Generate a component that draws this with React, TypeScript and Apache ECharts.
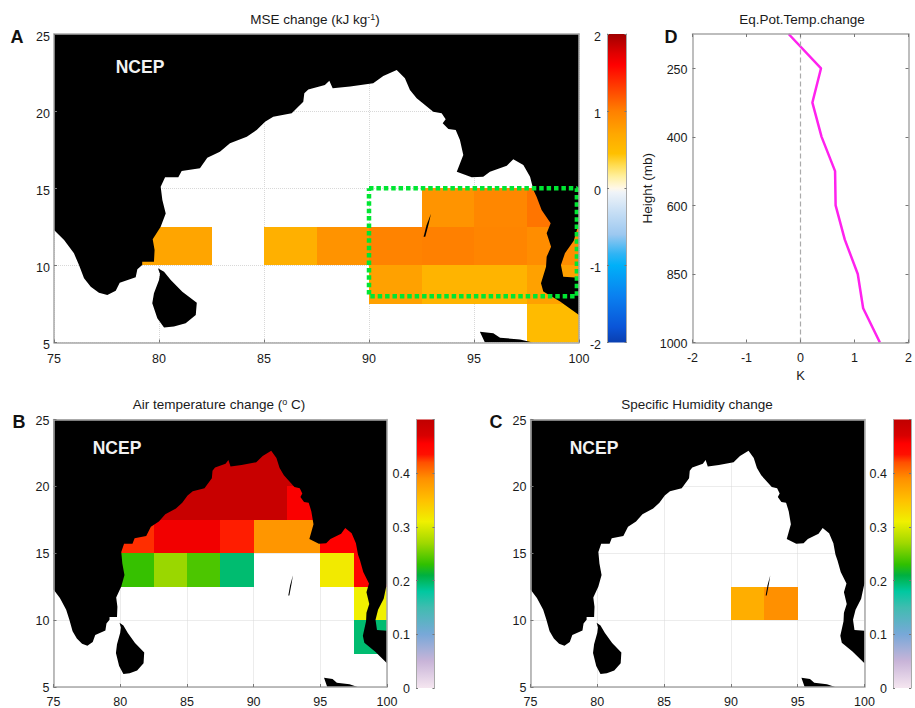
import React, { useEffect, useRef } from "react";
import * as echarts from "echarts";

const FONT = '"Liberation Sans", Arial, sans-serif';
const INK = "#1a1a1a";
const BOX = "#a8a8a8";

// Coastlines, [longitude, latitude]
const mainland: number[][] = [
  [75, 12.29], [75.48, 11.65], [75.95, 10.78], [76.19, 10.02], [76.43, 9.16], [76.75, 8.62], [77.14, 8.23], [77.54, 8.08],
  [77.94, 8.36], [78.13, 8.88], [78.89, 9.23], [78.97, 9.75], [79.2, 10.02], [79.2, 10.24], [79.76, 10.24], [79.79, 11.0], [79.7, 11.69],
  [80.08, 12.51], [80.32, 13.37], [80.16, 14.24], [80.08, 15.1], [80.29, 15.71], [80.92, 15.71], [81.08, 16.12], [81.95, 16.29],
  [82.3, 16.98], [82.9, 17.37], [83.38, 17.91], [84.18, 18.34], [84.65, 18.78], [85.05, 19.31], [85.44, 19.64], [86.32, 19.86],
  [86.87, 20.61], [86.92, 21.16], [87.11, 21.41], [87.9, 21.69], [88.11, 21.97], [88.27, 21.48], [89.1, 21.6], [90.2, 21.8],
  [90.68, 22.28], [91.32, 22.67], [91.71, 22.13], [91.95, 21.37], [92.27, 20.83], [93.06, 19.96], [93.46, 19.86], [93.65, 19.47],
  [93.51, 19.21], [93.78, 18.84], [94.13, 18.78], [94.33, 18.13], [94.49, 17.16], [94.18, 16.07], [94.89, 15.71], [95.44, 15.75],
  [95.76, 16.07], [96.56, 16.46], [96.87, 16.88], [97.35, 16.5], [97.67, 15.75], [97.83, 14.89], [97.98, 14.45], [98.22, 13.59],
  [98.65, 12.73], [98.46, 12.08], [98.67, 11.21], [98.46, 10.56], [98.43, 9.91], [98.19, 8.84], [98.3, 8.3], [99.1, 7.65],
  [100, 6.78], [100, 9.2], [99.25, 9.27], [99.14, 10.02], [99.33, 10.78], [99.75, 11.6], [99.9, 12.3], [100, 12.75], [100, 25], [75, 25],
];
const sriLanka: number[][] = [
  [79.95, 9.81], [80.24, 9.59], [80.56, 9.05], [81.11, 8.29], [81.8, 7.58], [81.75, 6.78], [81.27, 6.24], [80.71, 6.03],
  [80.24, 5.98], [79.92, 6.57], [79.68, 7.54], [79.76, 8.19], [80, 9.05], [80.05, 9.44],
];
const sumatra: number[][] = [[95.28, 5.7], [95.92, 5.6], [96.24, 5.31], [97.19, 5.2], [97.8, 5], [95.52, 5]];
const andaman: number[][] = [[92.95, 13.35], [92.85, 12.73], [92.68, 11.85], [92.6, 11.85], [92.74, 12.6]];
const landShapes = [mainland, sriLanka, sumatra, andaman];

// Grid cells, [west edge, south edge, value]; each cell spans 2.5 degrees
const mseCells: number[][] = [
  [77.5, 10, 0.72], [80, 10, 0.72], [85, 10, 0.62], [87.5, 10, 0.86], [90, 10, 0.98], [92.5, 10, 1.0], [95, 10, 0.96], [97.5, 10, 0.9],
  [92.5, 12.5, 0.85], [95, 12.5, 0.95], [97.5, 12.5, 1.05],
  [90, 7.5, 0.75], [92.5, 7.5, 0.58], [95, 7.5, 0.58], [97.5, 7.5, 0.75],
  [97.5, 5, 0.5],
];
const airCells: number[][] = [
  [80, 12.5, 0.232], [82.5, 12.5, 0.268], [85, 12.5, 0.24], [87.5, 12.5, 0.195], [95, 12.5, 0.315], [97.5, 12.5, 0.45],
  [97.5, 10, 0.31], [97.5, 7.5, 0.195],
  [80, 15, 0.428], [82.5, 15, 0.46], [85, 15, 0.46], [87.5, 15, 0.432], [90, 15, 0.385], [92.5, 15, 0.385], [95, 15, 0.455], [97.5, 15, 0.455],
  [82.5, 17.5, 0.49], [85, 17.5, 0.49], [87.5, 17.5, 0.49], [90, 17.5, 0.49], [92.5, 17.5, 0.457],
  [85, 20, 0.49], [87.5, 20, 0.49], [90, 20, 0.49], [92.5, 20, 0.49], [90, 22.5, 0.49],
];
const humidityCells: number[][] = [[90, 10, 0.365], [92.5, 10, 0.39]];

// Box of panel A, [longitude, latitude]
const boxLine: number[][] = [[90, 15], [99.9, 15], [99.9, 8], [90, 8], [90, 15]];

// Panel D profile
const levels = ["1000", "925", "850", "700", "600", "500", "400", "300", "250", "200"];
const eqPotTemp = [1.47, 1.16, 1.06, 0.82, 0.65, 0.64, 0.39, 0.22, 0.38, -0.22];

// Colour scales, [value, colour]
const mseScale: [number, string][] = [
  [-2, "#0a3fb0"], [-1.8, "#0a55d8"], [-1.4, "#0a80f0"], [-1, "#00b0f8"], [-0.85, "#30b4f4"], [-0.6, "#9cc8f0"], [-0.3, "#c8dff5"],
  [-0.05, "#f0f4f8"], [0, "#fff8e8"], [0.15, "#fff0a0"], [0.3, "#ffdc50"], [0.45, "#ffc000"], [0.7, "#ffa800"], [1, "#ff8000"],
  [1.3, "#ff4000"], [1.6, "#ff0000"], [1.75, "#e00000"], [2, "#a00000"],
];
const anomalyScale: [number, string][] = [
  [0, "#f5e6f0"], [0.05, "#c8b4d8"], [0.1, "#78a8d8"], [0.15, "#40bcb0"], [0.18, "#00c8a0"], [0.21, "#00b040"], [0.23, "#30c000"],
  [0.27, "#a0d800"], [0.31, "#f0f000"], [0.35, "#ffc000"], [0.39, "#ff9000"], [0.42, "#ff5000"], [0.435, "#ff1000"], [0.455, "#ff0000"],
  [0.47, "#d80000"], [0.5, "#c00000"],
];

function hexRgb(h: string) {
  return [1, 3, 5].map((i) => parseInt(h.slice(i, i + 2), 16));
}
function colourAt(scale: [number, string][], v: number) {
  for (let i = 1; i < scale.length; i++) {
    if (v <= scale[i][0]) {
      const t = Math.max(0, (v - scale[i - 1][0]) / (scale[i][0] - scale[i - 1][0]));
      const a = hexRgb(scale[i - 1][1]);
      const b = hexRgb(scale[i][1]);
      return `rgb(${a.map((c, k) => Math.round(c + (b[k] - c) * t)).join(",")})`;
    }
  }
  return scale[scale.length - 1][1];
}

function buildOption() {
  const grids: any[] = [];
  const xAxes: any[] = [];
  const yAxes: any[] = [];
  const series: any[] = [];
  const label = { color: INK, fontFamily: FONT, fontSize: 12.5 };
  const line = { show: true, onZero: false, lineStyle: { color: BOX, width: 1.5 } };
  const tick = { show: true, inside: true, length: 3, lineStyle: { color: "#777", width: 1 } };
  const off = { axisLine: { show: false }, axisTick: { show: false }, axisLabel: { show: false } };

  function addGrid(box: number[]) {
    grids.push({ left: box[0], top: box[1], width: box[2] - box[0], height: box[3] - box[1] });
    return grids.length - 1;
  }

  // Labels sit a little below their ticks in the reference: a top-aligned label with a short line box does that.
  const lowered = (drop: number) => ({ verticalAlign: "top", lineHeight: drop * 2 });

  function mapPanel(box: number[], cells: number[][], scale: [number, string][], xMargin: number, yDrop: number) {
    const g = addGrid(box);
    const x = xAxes.length;
    const y = yAxes.length;
    const split = { show: true, lineStyle: { color: "#d8d8d8", type: "dotted", width: 1 } };
    const xBase = { type: "value", gridIndex: g, min: 75, max: 100, interval: 5 };
    const yBase = { type: "value", gridIndex: g, min: 5, max: 25, interval: 5 };
    xAxes.push({ ...xBase, z: 6, axisLine: line, axisTick: tick, axisLabel: { ...label, margin: xMargin, hideOverlap: false }, splitLine: { show: false } });
    xAxes.push({ ...xBase, position: "top", z: 6, axisLine: line, axisTick: { show: false }, axisLabel: { show: false }, splitLine: { show: false } });
    xAxes.push({ ...xBase, z: 0, ...off, splitLine: split });
    yAxes.push({ ...yBase, z: 6, axisLine: line, axisTick: tick, axisLabel: { ...label, margin: 4, ...lowered(yDrop) }, splitLine: { show: false } });
    yAxes.push({ ...yBase, position: "right", z: 6, axisLine: line, axisTick: { show: false }, axisLabel: { show: false }, splitLine: { show: false } });
    yAxes.push({ ...yBase, z: 0, ...off, splitLine: split });
    series.push({
      type: "custom", xAxisIndex: x, yAxisIndex: y, z: 2, silent: true, clip: true, encode: { x: 0, y: 1 }, data: cells,
      renderItem: (_p: any, api: any) => {
        const a = api.coord([api.value(0), api.value(1) + 2.5]).map(Math.round);
        const b = api.coord([api.value(0) + 2.5, api.value(1)]).map(Math.round);
        const fill = colourAt(scale, api.value(2));
        return { type: "rect", shape: { x: a[0], y: a[1], width: b[0] - a[0], height: b[1] - a[1] }, style: { fill } };
      },
    });
    series.push({
      type: "custom", xAxisIndex: x, yAxisIndex: y, z: 3, silent: true, clip: true, encode: { x: 0, y: 1 },
      data: landShapes.map((s) => [s[0][0], s[0][1]]),
      renderItem: (p: any, api: any) => ({
        type: "polygon",
        shape: { points: landShapes[p.dataIndex].map((c) => api.coord(c)) },
        style: { fill: "#000" },
      }),
    });
    return { x, y };
  }

  function colourBar(box: number[], min: number, max: number, interval: number, scale: [number, string][], hideTop: boolean, drop: number) {
    const g = addGrid(box);
    const x = xAxes.length;
    const y = yAxes.length;
    const ticks = { show: true, inside: true, length: 2, lineStyle: { color: "#777", width: 1 } };
    xAxes.push({ type: "value", gridIndex: g, min: 0, max: 1, show: false });
    yAxes.push({
      type: "value", gridIndex: g, min, max, interval, z: 6, axisLine: { ...line, lineStyle: { color: BOX, width: 1 } }, axisTick: ticks,
      axisLabel: { ...label, margin: 6, showMaxLabel: !hideTop, ...lowered(drop) }, splitLine: { show: false },
    });
    yAxes.push({
      type: "value", gridIndex: g, min, max, interval, position: "right", z: 6, axisLine: { ...line, lineStyle: { color: BOX, width: 1 } },
      axisTick: ticks, axisLabel: { show: false }, splitLine: { show: false },
    });
    const stops = scale.map(([v, color]) => ({ offset: (max - v) / (max - min), color })).reverse();
    series.push({
      type: "custom", xAxisIndex: x, yAxisIndex: y, z: 2, silent: true, encode: { x: 0, y: 1 }, data: [[0, min, 1, max]],
      renderItem: (_p: any, api: any) => {
        const a = api.coord([0, api.value(3)]);
        const b = api.coord([api.value(2), api.value(1)]);
        return {
          type: "rect",
          shape: { x: a[0], y: a[1], width: b[0] - a[0], height: b[1] - a[1] },
          style: { fill: new echarts.graphic.LinearGradient(0, 0, 0, 1, stops) },
        };
      },
    });
  }

  const a = mapPanel([54, 34, 579, 342.5], mseCells, mseScale, 10, 2.5);
  mapPanel([53.5, 419.5, 387, 688], airCells, anomalyScale, 8, 1);
  mapPanel([530.5, 419.5, 864.5, 688], humidityCells, anomalyScale, 8, 1);

  series.push({
    type: "line", xAxisIndex: a.x, yAxisIndex: a.y, z: 4, silent: true, symbol: "none", clip: false, data: boxLine,
    lineStyle: { color: "#00e632", width: 4.5, type: [4.5, 2.9] },
  });

  colourBar([607, 34, 626.5, 342.5], -2, 2, 1, mseScale, false, 2.5);
  colourBar([416, 419.5, 434.5, 688], 0, 0.5, 0.1, anomalyScale, true, 1);
  colourBar([893, 419.5, 911, 688], 0, 0.5, 0.1, anomalyScale, true, 1);

  // Panel D
  const g = addGrid([692.5, 34, 911.5, 342.5]);
  const dx = xAxes.length;
  const dy = yAxes.length;
  const every2 = (i: number) => i % 2 === 0 && i < levels.length - 1;
  xAxes.push({
    type: "value", gridIndex: g, min: -2, max: 2, interval: 1, z: 6, axisLine: line, axisTick: tick, axisLabel: { ...label, margin: 9 }, splitLine: { show: false },
    name: "K", nameLocation: "middle", nameGap: 26, nameTextStyle: { ...label, fontSize: 13 },
  });
  xAxes.push({ type: "value", gridIndex: g, min: -2, max: 2, interval: 1, position: "top", z: 6, axisLine: line, axisTick: tick, axisLabel: { show: false }, splitLine: { show: false } });
  yAxes.push({
    type: "category", gridIndex: g, data: levels, boundaryGap: false, z: 6, axisLine: line,
    axisTick: { ...tick, interval: every2 }, axisLabel: { ...label, margin: 5, interval: every2, ...lowered(1.5) }, splitLine: { show: false },
    name: "Height (mb)", nameLocation: "middle", nameGap: 38, nameTextStyle: { ...label, fontSize: 13.5 },
  });
  yAxes.push({
    type: "category", gridIndex: g, data: levels, boundaryGap: false, position: "right", z: 6, axisLine: line,
    axisTick: { ...tick, interval: every2 }, axisLabel: { show: false }, splitLine: { show: false },
  });
  series.push({
    type: "line", xAxisIndex: dx, yAxisIndex: dy, symbol: "none", z: 3, silent: true,
    data: eqPotTemp.map((v, i) => [v, levels[i]]),
    lineStyle: { color: "#ff22ee", width: 2.5 },
    markLine: {
      silent: true, symbol: "none", label: { show: false }, animation: false,
      lineStyle: { color: "#aaaaaa", type: [5, 3], width: 1.2 }, data: [{ xAxis: 0 }],
    },
  });

  const titleStyle = {
    color: INK, fontFamily: FONT, fontSize: 13.5, fontWeight: "normal",
    rich: {
      t: { color: INK, fontFamily: FONT, fontSize: 13.5 },
      s: { color: INK, fontFamily: FONT, fontSize: 9, verticalAlign: "top", padding: [0, 0, 5, 0] },
    },
  };
  const mkTitle = (text: string, left: number, top: number) => ({ text, left, top, textAlign: "center", padding: 0, textStyle: titleStyle });

  const letter = (text: string, x: number, y: number) => ({
    type: "text", x, y, z: 20, silent: true,
    style: { text, fill: "#111", font: `bold 18px ${FONT}`, align: "center", verticalAlign: "middle" },
  });
  const ncep = (x: number, y: number) => ({
    type: "text", x, y, z: 20, silent: true,
    style: { text: "NCEP", fill: "#f2f2f2", font: `bold 17.5px ${FONT}`, align: "center", verticalAlign: "middle" },
  });

  return {
    animation: false,
    backgroundColor: "#fff",
    title: [
      mkTitle("{t|MSE change (kJ kg}{s|-1}{t|)}", 315, 12),
      mkTitle("{t|Air temperature change (}{s|o}{t| C)}", 219, 397),
      mkTitle("Specific Humidity change", 697, 397),
      mkTitle("Eq.Pot.Temp.change", 802, 12),
    ],
    grid: grids,
    xAxis: xAxes,
    yAxis: yAxes,
    series,
    graphic: [
      letter("A", 17, 37), letter("B", 19, 422), letter("C", 496, 422), letter("D", 671, 37),
      ncep(140, 67), ncep(117, 448), ncep(594, 448),
    ],
  };
}

export default function App() {
  const ref = useRef<HTMLDivElement>(null);
  useEffect(() => {
    document.body.style.margin = "0";
    const chart = echarts.init(ref.current!, undefined, { renderer: "svg" });
    chart.setOption(buildOption() as any);
    return () => chart.dispose();
  }, []);
  return <div ref={ref} style={{ width: 915, height: 708 }} />;
}
